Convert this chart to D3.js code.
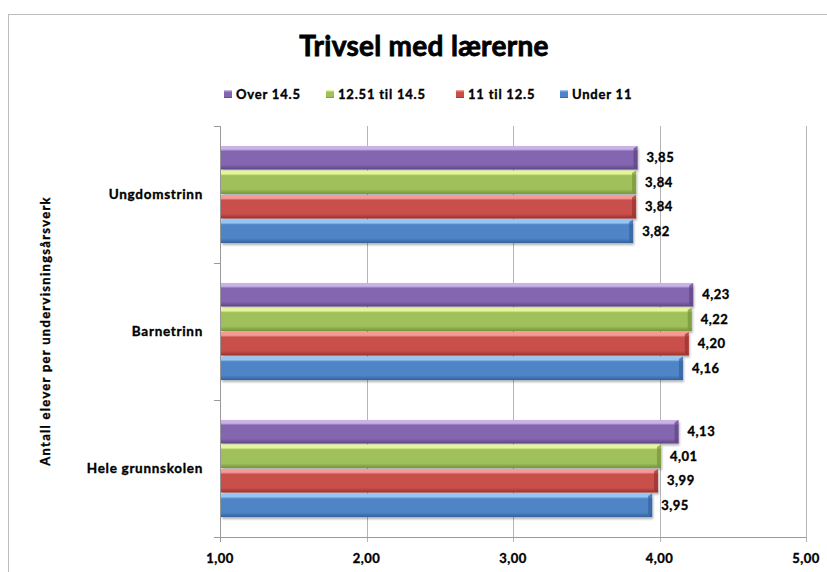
<!DOCTYPE html>
<html><head><meta charset="utf-8">
<script src="https://cdn.jsdelivr.net/npm/d3@7"></script>
<style>body{margin:0;background:#fff}svg{display:block;font-family:Lato,"Open Sans",sans-serif}
text{stroke:#000;stroke-width:0.35px}</style>
</head><body>
<script>
const categories = ["Ungdomstrinn", "Barnetrinn", "Hele grunnskolen"];
const seriesNames = ["Over 14.5", "12.51 til 14.5", "11 til 12.5", "Under 11"];
const over145   = [3.85, 4.23, 4.13];
const s1251_145 = [3.84, 4.22, 4.01];
const s11_125   = [3.84, 4.20, 3.99];
const under11   = [3.82, 4.16, 3.95];
const seriesValues = [over145, s1251_145, s11_125, under11];
const xTicks = [1, 2, 3, 4, 5];
const title = "Trivsel med lærerne";
const yTitle = "Antall elever per undervisningsårsverk";

const colors = [
  {top:"#c9b2e6", mid:"#8466b0", bot:"#5e4384"},
  {top:"#e4f59a", mid:"#9fc05a", bot:"#76943a"},
  {top:"#f59a96", mid:"#c94f4b", bot:"#99302d"},
  {top:"#93c6f4", mid:"#4f85c6", bot:"#33619c"}
];

(function(){
const W = 827, H = 572;
const svg = d3.select("body").append("svg").attr("width", W).attr("height", H);
const defs = svg.append("defs");
colors.forEach((c, i) => {
  const g = defs.append("linearGradient").attr("id", "g" + i).attr("x1", 0).attr("y1", 0).attr("x2", 0).attr("y2", 1);
  g.append("stop").attr("offset", "0%").attr("stop-color", c.top);
  g.append("stop").attr("offset", "14%").attr("stop-color", c.top);
  g.append("stop").attr("offset", "22%").attr("stop-color", c.mid);
  g.append("stop").attr("offset", "80%").attr("stop-color", c.mid);
  g.append("stop").attr("offset", "100%").attr("stop-color", c.bot);
});
const f = defs.append("filter").attr("id", "sh").attr("x", "-5%").attr("y", "-20%").attr("width", "110%").attr("height", "160%");
f.append("feDropShadow").attr("dx", 1).attr("dy", 2).attr("stdDeviation", 1.2).attr("flood-color", "#000").attr("flood-opacity", 0.3);

svg.append("rect").attr("x", 8.5).attr("y", 14.5).attr("width", W + 20).attr("height", H + 20)
  .attr("fill", "none").attr("stroke", "#bdbdbd").attr("stroke-width", 1);

const pl = 220, pr = 806, pt = 126, pb = 537;
const x = d3.scaleLinear().domain([1, 5]).range([pl, pr]);
const y = d3.scaleBand().domain(categories).range([pt, pb]);
const bh = y.bandwidth() * 0.179;
const off = (y.bandwidth() - 4 * bh) / 2;

svg.append("g").selectAll("line").data(xTicks.slice(1)).join("line")
  .attr("x1", d => Math.round(x(d)) + 0.5).attr("x2", d => Math.round(x(d)) + 0.5)
  .attr("y1", pt).attr("y2", pb + 5)
  .attr("stroke", "#b5b5b5").attr("stroke-width", 1);

svg.append("line").attr("x1", pl - 6).attr("x2", pr + 0.5).attr("y1", pb + 0.5).attr("y2", pb + 0.5).attr("stroke", "#9a9a9a");
svg.append("line").attr("x1", pl + 0.5).attr("x2", pl + 0.5).attr("y1", pt).attr("y2", pb + 5).attr("stroke", "#9a9a9a");
const catEdges = [pt, ...categories.map(c => y(c) + y.bandwidth())];
svg.append("g").selectAll("line").data(catEdges).join("line")
  .attr("x1", pl - 6).attr("x2", pl).attr("y1", d => Math.round(d) + 0.5).attr("y2", d => Math.round(d) + 0.5)
  .attr("stroke", "#9a9a9a");

svg.append("g").selectAll("text").data(xTicks).join("text")
  .attr("x", d => x(d)).attr("y", 563).attr("text-anchor", "middle")
  .attr("font-size", 13).attr("font-weight", 700).attr("letter-spacing", 0.5).attr("fill", "#000")
  .text(d => d3.format(".2f")(d).replace(".", ","));

svg.append("g").selectAll("text").data(categories).join("text")
  .attr("x", 203).attr("y", d => y(d) + y.bandwidth() / 2).attr("dy", "0.35em")
  .attr("text-anchor", "end").attr("font-size", 13.5).attr("font-weight", 700).attr("letter-spacing", 0.7).text(d => d);

categories.forEach((cat, ci) => {
  seriesNames.forEach((s, si) => {
    const v = seriesValues[si][ci];
    const yy = y(cat) + off + si * bh;
    const w = x(v) - pl;
    const g = svg.append("g");
    g.append("rect").attr("x", pl + 1).attr("y", yy + 0.5).attr("width", w - 1).attr("height", bh - 1)
      .attr("fill", "url(#g" + si + ")").attr("filter", "url(#sh)");
    g.append("path").attr("d", `M${pl + w - 4},${yy + 3} L${pl + w},${yy + 0.5} L${pl + w},${yy + bh - 0.5} L${pl + w - 4},${yy + bh - 3} Z`)
      .attr("fill", colors[si].bot).attr("opacity", 0.7);
    svg.append("text").attr("x", x(v) + 9).attr("y", yy + bh / 2).attr("dy", "0.35em")
      .attr("font-size", 13).attr("font-weight", 700).attr("letter-spacing", 0.5).text(d3.format(".2f")(v).replace(".", ","));
  });
});

svg.append("text").attr("x", 424).attr("y", 56).attr("text-anchor", "middle")
  .attr("font-size", 28).attr("font-weight", 700).style("stroke-width", "0.8px").attr("letter-spacing", 0.3).text(title);

const legX = [224, 326, 456, 560];
const leg = svg.append("g");
seriesNames.forEach((s, i) => {
  leg.append("rect").attr("x", legX[i]).attr("y", 90).attr("width", 8).attr("height", 8)
    .attr("fill", "url(#g" + i + ")");
  leg.append("text").attr("x", legX[i] + 12).attr("y", 94).attr("dy", "0.35em")
    .attr("font-size", 13).attr("font-weight", 700).attr("letter-spacing", 0.8).text(s);
});

svg.append("text").attr("transform", "translate(45,331) rotate(-90)").attr("text-anchor", "middle")
  .attr("dy", "0.35em").attr("font-size", 13).attr("font-weight", 700).attr("letter-spacing", 1.3).text(yTitle);
})();
</script>
</body></html>
